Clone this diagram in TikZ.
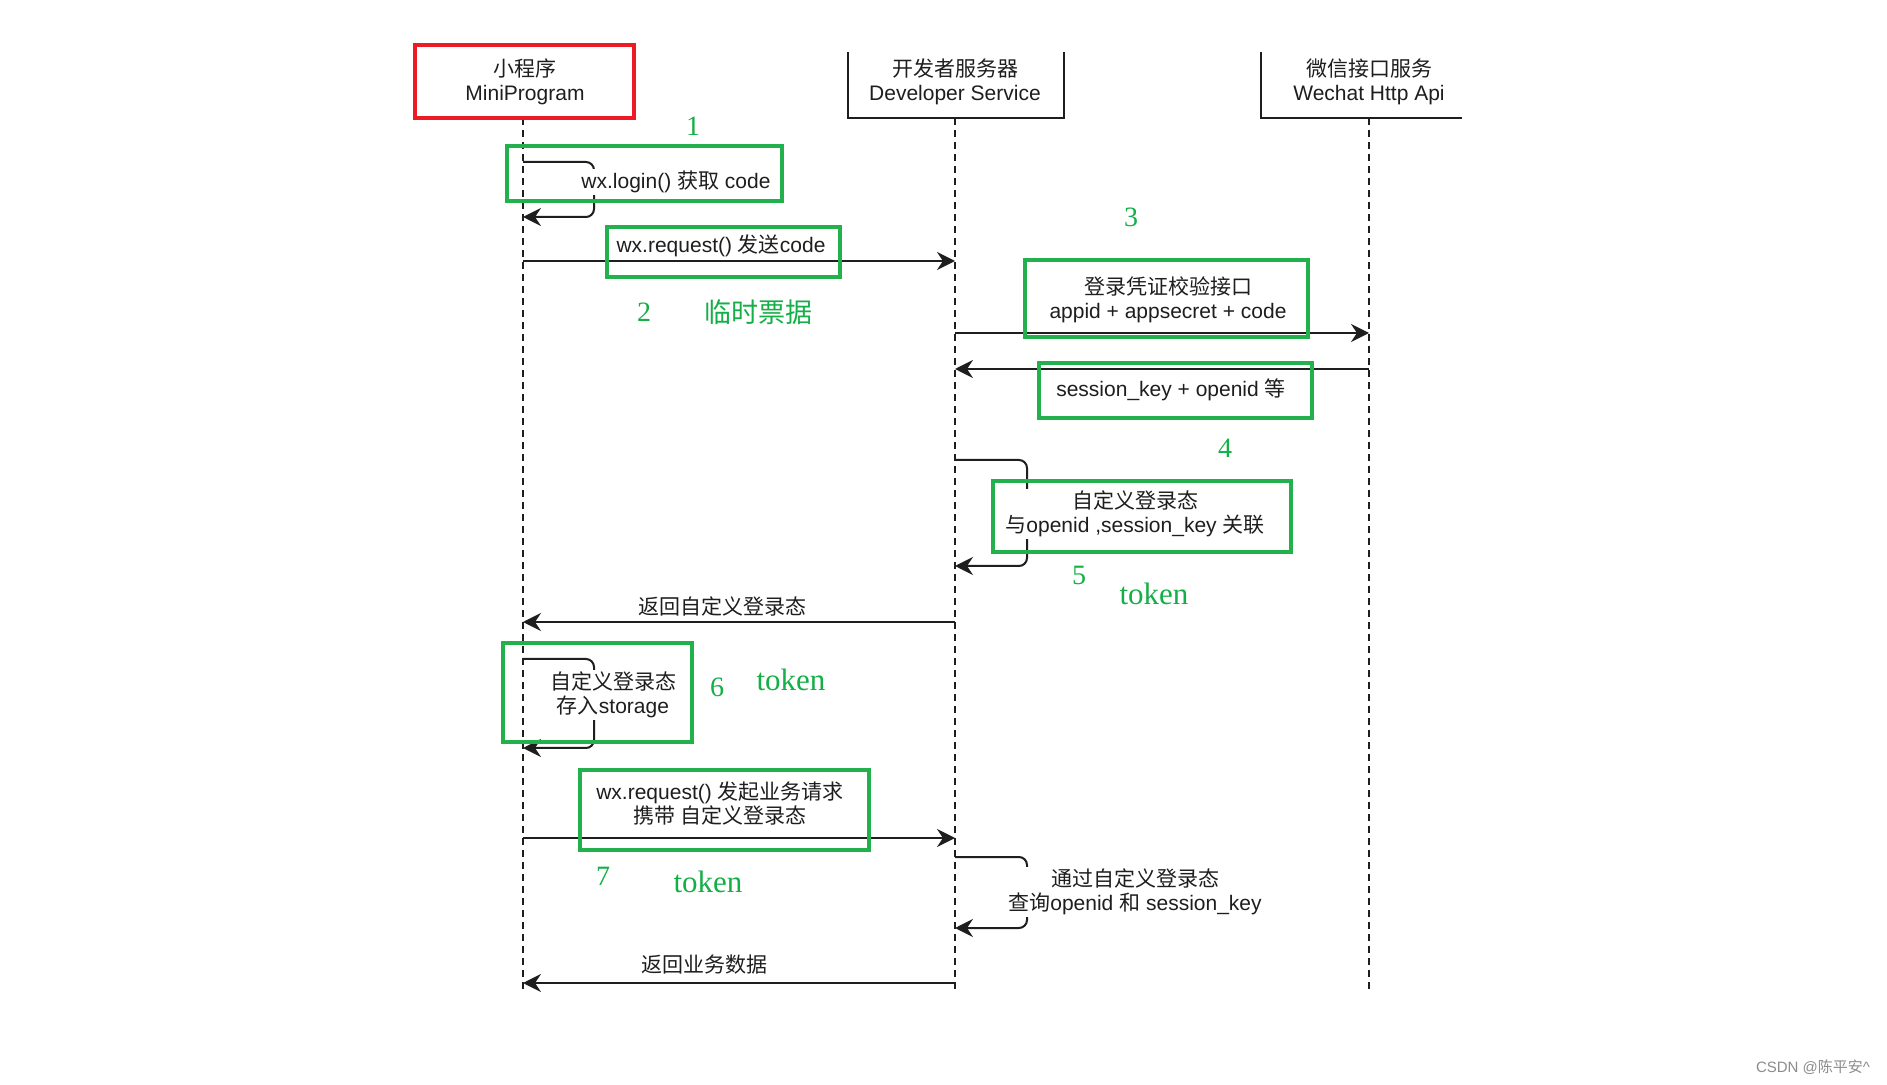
\documentclass[tikz,border=0pt]{standalone}
\usepackage{fontspec}
\setmainfont{Liberation Sans}
\newfontfamily\cjk{Noto Sans CJK SC}
\newfontfamily\serifnum{Liberation Serif}
\usetikzlibrary{arrows.meta}
\definecolor{gbox}{RGB}{34,177,76}
\definecolor{rbox}{RGB}{237,28,36}
\definecolor{gtext}{RGB}{20,175,70}
\definecolor{ink}{RGB}{30,30,30}
\begin{document}
\begin{tikzpicture}[x=0.5pt,y=-0.5pt,
  hdrline/.style={draw=ink, line width=1pt},
  lifeline/.style={draw=ink, line width=0.8pt, dash pattern=on 3.5pt off 2.5pt},
  msg/.style={draw=ink, line width=1pt, -{Stealth[length=9pt,width=9pt,inset=3pt]}},
  loopmsg/.style={msg, rounded corners=4pt},
  lbl/.style={font=\fontsize{10.5}{12}\selectfont, text=ink, align=center, inner sep=1pt},
  lblw/.style={lbl, fill=white},
  greenbox/.style={draw=gbox, line width=2pt},
  redbox/.style={draw=rbox, line width=2.2pt},
  gnum/.style={text=gtext, font=\serifnum\fontsize{14}{16}\selectfont, inner sep=0pt},
  gword/.style={text=gtext, font=\serifnum\fontsize{15.5}{17}\selectfont, inner sep=0pt},
  wmark/.style={text=black!45, font=\fontsize{7.5}{9}\selectfont, inner sep=0pt}
]
\useasboundingbox[fill=white] (0,0) rectangle (1887,1085);

% header boxes
\draw[hdrline] (848,52) -- (848,118) -- (1064,118) -- (1064,52);
\draw[hdrline] (1261,52) -- (1261,118) -- (1462,118);

\node[lbl] (mini) at (525,82) {{\cjk 小程序}\\MiniProgram};
\node[lbl] (dev) at (955,82) {{\cjk 开发者服务器}\\Developer Service};
\node[lbl] (wxapi) at (1369,82) {{\cjk 微信接口服务}\\Wechat Http Api};

% lifelines
\coordinate (mTop) at (523,118);
\coordinate (mBot) at (523,989);
\coordinate (dTop) at (955,118);
\coordinate (dBot) at (955,989);
\coordinate (wTop) at (1369,118);
\coordinate (wBot) at (1369,989);
\draw[lifeline] (mTop) -- (mBot);
\draw[lifeline] (dTop) -- (dBot);
\draw[lifeline] (wTop) -- (wBot);

% message anchor points
\coordinate (m1a) at (523,162);  \coordinate (m1b) at (523,217);
\coordinate (m2) at (523,261);   \coordinate (d2) at (955,261);
\coordinate (d3) at (955,333);   \coordinate (w3) at (1369,333);
\coordinate (w4) at (1369,369);  \coordinate (d4) at (955,369);
\coordinate (d5a) at (955,460);  \coordinate (d5b) at (955,566);
\coordinate (d6) at (955,622);   \coordinate (m6) at (523,622);
\coordinate (m7a) at (523,659);  \coordinate (m7b) at (523,748);
\coordinate (m8) at (523,838);   \coordinate (d8) at (955,838);
\coordinate (d9a) at (955,857);  \coordinate (d9b) at (955,928);
\coordinate (d10) at (955,983);  \coordinate (m10) at (523,983);

% messages
\draw[loopmsg] (m1a) -- (594,162) -- (594,217) -- (m1b);
\draw[msg] (m2) -- (d2);
\draw[msg] (d3) -- (w3);
\draw[msg] (w4) -- (d4);
\draw[loopmsg] (d5a) -- (1027,460) -- (1027,566) -- (d5b);
\draw[msg] (d6) -- (m6);
\draw[loopmsg] (m7a) -- (594,659) -- (594,748) -- (m7b);
\draw[msg] (m8) -- (d8);
\draw[loopmsg] (d9a) -- (1027,857) -- (1027,928) -- (d9b);
\draw[msg] (d10) -- (m10);

% labels
\node[lblw] (l1) at (676,182) {wx.login() {\cjk 获取} code};
\node[lbl] (l2) at (721,246) {wx.request() {\cjk 发送}code};
\node[lbl] (l3) at (1168,300) {{\cjk 登录凭证校验接口}\\appid + appsecret + code};
\node[lbl] (l4) at (1171,390) {session\_key + openid {\cjk 等}};
\node[lblw] (l5) at (1135,514) {{\cjk 自定义登录态}\\{\cjk 与}openid ,session\_key {\cjk 关联}};
\node[lbl] (l6) at (722,606) {\cjk 返回自定义登录态};
\node[lblw] (l7) at (613,695) {{\cjk 自定义登录态}\\{\cjk 存入}storage};
\node[lbl] (l8) at (720,804) {wx.request() {\cjk 发起业务请求}\\{\cjk 携带 自定义登录态}};
\node[lblw] (l9) at (1135,892) {{\cjk 通过自定义登录态}\\{\cjk 查询}openid {\cjk 和} session\_key};
\node[lbl] (l10) at (704,965) {\cjk 返回业务数据};

% highlight boxes
\draw[redbox] (415,45) rectangle (634,118);
\draw[greenbox] (507,146) rectangle (782,201);
\draw[greenbox] (607,227) rectangle (840,277);
\draw[greenbox] (1025,260) rectangle (1308,337);
\draw[greenbox] (1039,363) rectangle (1312,418);
\draw[greenbox] (993,481) rectangle (1291,552);
\draw[greenbox] (503,643) rectangle (692,742);
\draw[greenbox] (580,770) rectangle (869,850);

% green annotations
\node[gnum] (n1) at (693,126) {1};
\node[gnum] (n2) at (644,312) {2};
\node[text=gtext, font=\cjk\fontsize{13.5}{15}\selectfont, inner sep=0pt] (tmp) at (758,312) {临时票据};
\node[gnum] (n3) at (1131,217) {3};
\node[gnum] (n4) at (1225,448) {4};
\node[gnum] (n5) at (1079,575) {5};
\node[gword] (t5) at (1154,594) {token};
\node[gnum] (n6) at (717,687) {6};
\node[gword] (t6) at (791,680) {token};
\node[gnum] (n7) at (603,876) {7};
\node[gword] (t7) at (708,882) {token};

\node[wmark] (wm) at (1813,1067) {CSDN @{\cjk 陈平安}\textasciicircum};
\end{tikzpicture}
\end{document}
